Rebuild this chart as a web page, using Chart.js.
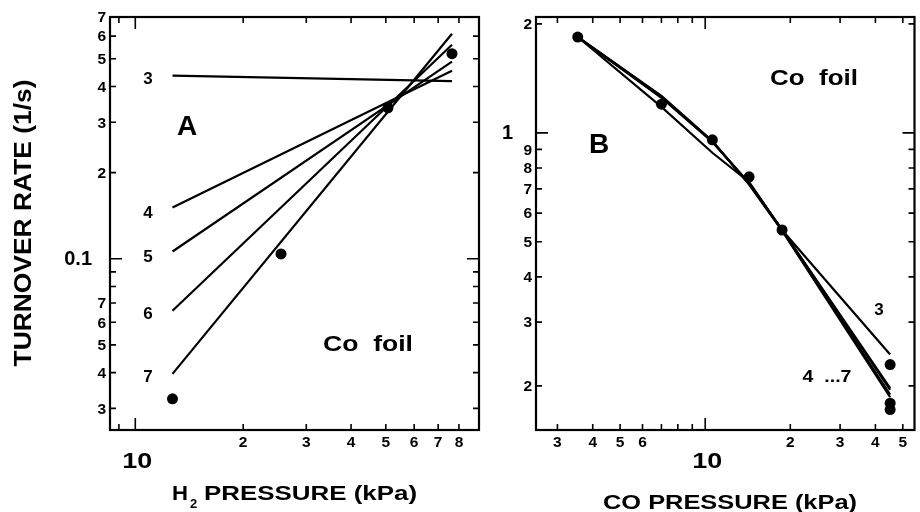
<!DOCTYPE html>
<html>
<head>
<meta charset="utf-8">
<script src="https://cdn.jsdelivr.net/npm/chart.js@4.4.0/dist/chart.umd.min.js"></script>
<style>
  body { margin: 0; background: #fff; }
  #wrap { position: relative; width: 920px; height: 512px; overflow: hidden; }
  canvas { position: absolute; top: 0; }
  #chartA { left: 0; width: 490px; height: 512px; }
  #chartB { left: 490px; width: 430px; height: 512px; }
</style>
</head>
<body>
<div id="wrap">
  <canvas id="chartA" width="490" height="512"></canvas>
  <canvas id="chartB" width="430" height="512"></canvas>
</div>
<script>
// Panel A: rate vs H2 pressure, fits for orders 3..7
const h2Pressure = [12.7, 25.5, 50.7, 76.5];
const h2Rate = [0.0324, 0.104, 0.337, 0.521];
const h2FitX = [12.7, 76.5];
const h2Fit3 = [0.437, 0.418];
const h2Fit4 = [0.151, 0.454];
const h2Fit5 = [0.106, 0.489];
const h2Fit6 = [0.0658, 0.560];
const h2Fit7 = [0.0396, 0.612];

const h2Ticks = [9, 10, 20, 30, 40, 50, 60, 70, 80];
const h2TickLabels = ['', '10', '2', '3', '4', '5', '6', '7', '8'];
const rateTicksA = [0.03, 0.04, 0.05, 0.06, 0.07, 0.08, 0.09, 0.1, 0.2, 0.3, 0.4, 0.5, 0.6, 0.7];
const rateLabelsA = ['3', '4', '5', '6', '7', '', '', '0.1', '2', '3', '4', '5', '6', '7'];

// Panel B: rate vs CO pressure
const coPressure = [3.54, 7.0, 10.6, 14.3, 18.7, 45.1, 45.1, 45.1];
const coRate = [1.84, 1.20, 0.957, 0.756, 0.539, 0.229, 0.179, 0.172];
const coFitX = [3.54, 7.0, 10.6, 14.3, 18.7, 45.1];
const coFit3 = [1.84, 1.18, 0.881, 0.732, 0.539, 0.244];
const coFit4 = [1.84, 1.25, 0.944, 0.727, 0.540, 0.197];
const coFit5 = [1.84, 1.255, 0.946, 0.725, 0.539, 0.195];
const coFit6 = [1.84, 1.26, 0.948, 0.722, 0.538, 0.189];
const coFit7 = [1.84, 1.265, 0.950, 0.720, 0.537, 0.186];

const coTicks = [3, 4, 5, 6, 7, 8, 9, 10, 20, 30, 40, 50];
const coTickLabels = ['3', '4', '5', '6', '', '', '', '10', '2', '3', '4', '5'];
const rateTicksB = [0.2, 0.3, 0.4, 0.5, 0.6, 0.7, 0.8, 0.9, 1, 2];
const rateLabelsB = ['2', '3', '4', '5', '6', '7', '8', '9', '1', '2'];

const FONT = '"Liberation Sans", Arial, Helvetica, sans-serif';

function drawText(ctx, text, x, y, size, opts = {}) {
  ctx.save();
  ctx.font = `bold ${size}px ${FONT}`;
  ctx.fillStyle = '#000';
  ctx.textAlign = opts.align || 'center';
  ctx.textBaseline = opts.baseline || 'alphabetic';
  ctx.translate(x, y);
  if (opts.rotate) ctx.rotate(opts.rotate);
  if (opts.width) {
    const w = ctx.measureText(text).width;
    ctx.scale(opts.width / w, 1);
  }
  ctx.fillText(text, 0, 0);
  ctx.restore();
}

// boxed log axes with inward ticks on all four sides
const framePlugin = {
  id: 'frame',
  afterDraw(chart, args, opts) {
    const { ctx, chartArea: a } = chart;
    const xs = chart.scales.x;
    const ys = chart.scales.y;
    ctx.save();
    ctx.strokeStyle = '#000';
    ctx.lineWidth = 2.2;
    ctx.strokeRect(a.left, a.top, a.right - a.left, a.bottom - a.top);
    ctx.lineWidth = 1.6;
    ctx.beginPath();
    opts.xTicks.forEach((v) => {
      const px = xs.getPixelForValue(v);
      const len = v === opts.xMajor ? 12 : 6;
      ctx.moveTo(px, a.bottom); ctx.lineTo(px, a.bottom - len);
      ctx.moveTo(px, a.top); ctx.lineTo(px, a.top + len);
    });
    opts.yTicks.forEach((v) => {
      const py = ys.getPixelForValue(v);
      const len = v === opts.yMajor ? 12 : 6;
      ctx.moveTo(a.left, py); ctx.lineTo(a.left + len, py);
      ctx.moveTo(a.right, py); ctx.lineTo(a.right - len, py);
    });
    ctx.stroke();
    ctx.restore();

    opts.xTicks.forEach((v, i) => {
      const label = opts.xLabels[i];
      if (!label) return;
      const px = xs.getPixelForValue(v);
      if (v === opts.xMajor) {
        drawText(ctx, label, px + 2, a.bottom + 38, 22, { width: 30 });
      } else {
        drawText(ctx, label, px, a.bottom + 17, 15.5);
      }
    });
    opts.yTicks.forEach((v, i) => {
      const label = opts.yLabels[i];
      if (!label) return;
      const py = ys.getPixelForValue(v);
      if (v === opts.yMajor) {
        drawText(ctx, label, a.left - opts.majorGap, py + 1, 20, { align: 'right', baseline: 'middle' });
      } else {
        drawText(ctx, label, a.left - 4, py + 1, 15.5, { align: 'right', baseline: 'middle' });
      }
    });
    opts.texts.forEach((t) => drawText(ctx, t.text, t.x, t.y, t.size, t));
  },
};

function fitLine(xs, ys) {
  return {
    type: 'scatter',
    data: xs.map((x, i) => ({ x, y: ys[i] })),
    showLine: true,
    borderColor: '#000',
    borderWidth: 2.2,
    pointRadius: 0,
    tension: 0,
    fill: false,
  };
}

function dots(xs, ys) {
  return {
    type: 'scatter',
    data: xs.map((x, i) => ({ x, y: ys[i] })),
    showLine: false,
    pointRadius: 5.5,
    pointBackgroundColor: '#000',
    pointBorderWidth: 0,
  };
}

function makeChart(id, datasets, xRange, yRange, padding, frame) {
  return new Chart(document.getElementById(id).getContext('2d'), {
    type: 'scatter',
    data: { datasets },
    options: {
      responsive: false,
      animation: false,
      events: [],
      layout: { padding },
      plugins: { legend: { display: false }, tooltip: { enabled: false }, frame },
      scales: {
        x: { type: 'logarithmic', min: xRange[0], max: xRange[1], display: false },
        y: { type: 'logarithmic', min: yRange[0], max: yRange[1], display: false },
      },
    },
    plugins: [framePlugin],
  });
}

makeChart(
  'chartA',
  [
    fitLine(h2FitX, h2Fit3),
    fitLine(h2FitX, h2Fit4),
    fitLine(h2FitX, h2Fit5),
    fitLine(h2FitX, h2Fit6),
    fitLine(h2FitX, h2Fit7),
    dots(h2Pressure, h2Rate),
  ],
  [8.5, 91],
  [0.0252, 0.70],
  { left: 110, right: 11, top: 17, bottom: 82 },
  {
    xTicks: h2Ticks, xLabels: h2TickLabels, xMajor: 10,
    yTicks: rateTicksA, yLabels: rateLabelsA, yMajor: 0.1, majorGap: 18,
    texts: [
      { text: 'TURNOVER RATE (1/s)', x: 31, y: 223, size: 24, rotate: -Math.PI / 2, width: 287 },
      { text: 'A', x: 187, y: 135, size: 28 },
      { text: 'Co  foil', x: 368, y: 351, size: 22, width: 90 },
      { text: '3', x: 148, y: 84, size: 17 },
      { text: '4', x: 148, y: 218, size: 17 },
      { text: '5', x: 148, y: 262, size: 17 },
      { text: '6', x: 148, y: 319, size: 17 },
      { text: '7', x: 148, y: 382, size: 17 },
      { text: 'H', x: 172, y: 500, size: 21, align: 'left', width: 16 },
      { text: '2', x: 190, y: 508, size: 13, align: 'left' },
      { text: 'PRESSURE (kPa)', x: 204, y: 500, size: 21, align: 'left', width: 213 },
    ],
  }
);

makeChart(
  'chartB',
  [
    fitLine(coFitX, coFit3),
    fitLine(coFitX, coFit4),
    fitLine(coFitX, coFit5),
    fitLine(coFitX, coFit6),
    fitLine(coFitX, coFit7),
    dots(coPressure, coRate),
  ],
  [2.52, 55],
  [0.151, 2.09],
  { left: 46, right: 1, top: 17, bottom: 82 },
  {
    xTicks: coTicks, xLabels: coTickLabels, xMajor: 10,
    yTicks: rateTicksB, yLabels: rateLabelsB, yMajor: 1, majorGap: 23,
    texts: [
      { text: 'B', x: 109, y: 153, size: 28 },
      { text: 'Co  foil', x: 324, y: 85, size: 22, width: 88 },
      { text: '3', x: 389, y: 315, size: 17 },
      { text: '4  ...7', x: 337, y: 382, size: 17, width: 49 },
      { text: 'CO PRESSURE (kPa)', x: 240, y: 509, size: 21, width: 254 },
    ],
  }
);
</script>
</body>
</html>
